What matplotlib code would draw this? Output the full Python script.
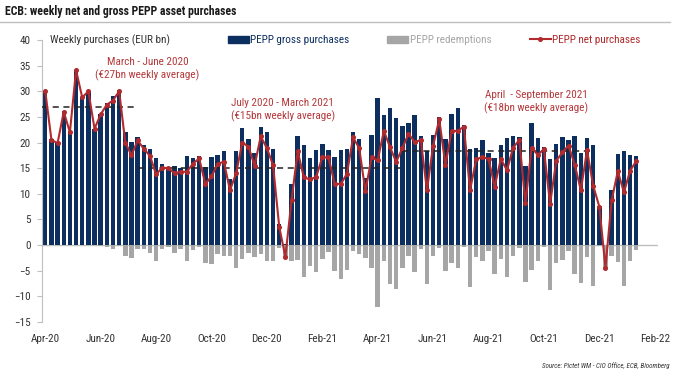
import numpy as np
import matplotlib
matplotlib.use('Agg')
import matplotlib.pyplot as plt
from matplotlib.patches import Patch
from matplotlib.lines import Line2D
from matplotlib import font_manager

# pick a narrow face if one is installed
names = {f.name for f in font_manager.fontManager.ttflist}
narrow = [n for n in ['Liberation Sans Narrow', 'DejaVu Sans Condensed', 'Roboto Condensed',
                      'Open Sans Condensed'] if n in names]
plt.rcParams['font.family'] = narrow + ['DejaVu Sans']
plt.rcParams['font.stretch'] = 'condensed'

# weekly PEPP data, EUR bn (week 1 = early April 2020)
gross = [30.1, 20.6, 19.9, 26.2, 22.2, 34.2, 28.8, 30.1, 22.7, 25.6,
         27.7, 29.0, 30.2, 22.1, 20.1, 21.1, 19.5, 18.8, 16.9, 15.8,
         15.3, 15.4, 15.1, 17.4, 16.9, 17.3, 15.3, 17.1, 17.6, 18.4,
         12.8, 18.4, 22.8, 20.7, 17.9, 23.0, 22.1, 18.8, 4.1, 0.2,
         11.9, 21.2, 19.5, 16.9, 18.6, 19.8, 18.5, 17.1, 18.5, 18.8,
         22.1, 20.6, 13.1, 21.5, 28.6, 25.4, 26.7, 24.7, 23.3, 23.9,
         25.3, 21.3, 18.3, 21.5, 25.0, 20.6, 25.6, 26.7, 23.4, 18.8,
         19.0, 20.4, 17.9, 17.0, 19.5, 20.9, 21.2, 21.0, 15.4, 23.9,
         20.8, 19.1, 16.8, 19.8, 21.0, 20.5, 21.3, 18.0, 20.8, 19.6,
         7.7, 0.0, 10.8, 17.7, 18.3, 17.6, 17.4]
redemptions = [0.0, 0.0, 0.0, 0.0, 0.0, 0.0, 0.0, 0.0, 0.0, -0.1,
               -0.3, -0.8, -0.2, -2.1, -2.6, -0.7, -0.7, -1.5, -3.1, -0.7,
               -0.3, -1.5, -0.8, -3.1, -1.0, -0.4, -3.4, -3.7, -1.8, -2.1,
               -2.1, -4.4, -2.8, -1.5, -2.4, -1.8, -3.2, -3.2, -0.5, -2.5,
               -3.2, -2.9, -6.3, -4.1, -5.3, -2.7, -1.4, -5.1, -6.6, -4.9,
               -1.1, -1.7, -2.6, -4.4, -12.1, -3.1, -7.6, -8.5, -4.4, -2.2,
               -5.2, -0.8, -7.6, -2.1, -0.5, -5.0, -3.4, -4.4, -0.3, -8.1,
               -2.3, -3.2, -1.1, -5.6, -2.7, -6.3, -2.2, -0.5, -7.2, -4.9,
               -3.2, -0.4, -8.8, -3.4, -2.9, -1.1, -5.6, -7.3, -2.3, -8.0,
               -0.2, -4.4, -2.1, -3.3, -8.0, -3.1, -1.0]
net = [30.0, 20.5, 19.9, 26.0, 22.0, 34.1, 28.8, 30.0, 22.7, 25.5,
       27.4, 28.2, 30.0, 20.0, 17.5, 20.4, 18.8, 17.4, 13.8, 15.1,
       15.0, 14.0, 14.3, 14.3, 15.9, 16.9, 11.9, 13.4, 15.8, 16.3,
       10.7, 14.0, 20.0, 19.2, 15.5, 21.2, 18.9, 15.6, 3.6, -2.3,
       8.7, 18.3, 13.2, 12.8, 13.3, 17.1, 17.1, 12.0, 11.9, 13.9,
       21.0, 18.9, 10.5, 17.1, 16.5, 22.3, 19.1, 16.2, 18.9, 21.7,
       20.1, 20.5, 10.7, 19.4, 24.5, 15.6, 22.2, 22.3, 23.1, 10.7,
       16.7, 17.2, 16.8, 11.4, 16.8, 14.6, 19.0, 20.5, 8.2, 19.0,
       17.6, 18.7, 8.0, 16.4, 18.1, 19.4, 15.7, 10.7, 18.5, 11.6,
       7.5, -4.4, 8.7, 14.4, 10.3, 14.5, 16.4]

tick_labels = ['Apr-20', 'Jun-20', 'Aug-20', 'Oct-20', 'Dec-20', 'Feb-21',
               'Apr-21', 'Jun-21', 'Aug-21', 'Oct-21', 'Dec-21', 'Feb-22']

# period averages: (value, first week, last week)
avg_values = [27, 15, 18.4]
avg_start = [-0.5, 15.1, 57.9]
avg_end = [14.8, 57.6, 88.9]
avg_texts = ['March - June 2020\n(\u20ac27bn weekly average)',
             'July 2020 - March 2021\n(\u20ac15bn weekly average)',
             'April  - September 2021\n(\u20ac18bn weekly average)']
avg_text_pos = [(16.6, 34.3), (38.6, 26.3), (79.8, 27.9)]

BLUE = '#0D2F5F'
GREY = '#A6A6A6'
RED = '#B02A2E'
TXT_RED = '#B5393B'
AX_GREY = '#BFBFBF'
FS = 8

weeks = np.arange(len(gross))

fig = plt.figure(figsize=(6.8, 3.76), dpi=100)
ax = fig.add_axes([42.2 / 680, 54 / 376, 615.6 / 680, 282 / 376])

ax.bar(weeks, gross, width=0.72, color=BLUE, zorder=2)
ax.bar(weeks, redemptions, width=0.72, color=GREY, zorder=2)
ax.axhline(0, color=AX_GREY, lw=1, zorder=1)
ax.plot(weeks, net, color=RED, lw=1.5, marker='o', markersize=2.6, zorder=4)

for v, s, e in zip(avg_values, avg_start, avg_end):
    ax.plot([s, e], [v, v], color='#222222', lw=1.1, ls=(0, (4, 3)), zorder=3)
for t, (px, py) in zip(avg_texts, avg_text_pos):
    ax.text(px, py, t, color=TXT_RED, fontsize=FS, ha='center', va='center',
            linespacing=1.25, zorder=5)

ax.set_xlim(-0.5, 99.5)
ax.set_ylim(-15, 40)
ax.set_yticks(np.arange(-15, 41, 5))
ax.set_xticks(np.arange(0, 100, 9))
ax.set_xticklabels(tick_labels)

for side in ['top', 'right', 'bottom']:
    ax.spines[side].set_visible(False)
ax.spines['left'].set_color(AX_GREY)
ax.tick_params(axis='y', direction='out', length=3.5, color=AX_GREY,
               labelsize=FS, labelcolor='#333333', pad=5)
ax.tick_params(axis='x', length=0, labelsize=FS, labelcolor='#333333', pad=9)

ax.text(0.8, 40, 'Weekly purchases (EUR bn)', fontsize=FS, color='#333333',
        ha='left', va='center')

handles = [Patch(color=BLUE), Patch(color=GREY),
           Line2D([], [], color=RED, lw=1.5, marker='o', markersize=2.6)]
leg = ax.legend(handles, ['PEPP gross purchases', 'PEPP redemptions',
                          'PEPP net purchases'],
                loc='center left', bbox_to_anchor=(222 / 680, 1 - 40 / 376),
                bbox_transform=fig.transFigure, ncol=3, frameon=False,
                fontsize=FS, handlelength=1.9, handleheight=0.6,
                handletextpad=0.15, columnspacing=3.4, borderpad=0)
for txt, c in zip(leg.get_texts(), [BLUE, GREY, RED]):
    txt.set_color(c)

fig.text(5 / 680, 1 - 12 / 376, 'ECB: weekly net and gross PEPP asset purchases',
         fontsize=8.5, fontweight='bold', color='#1a1a1a', ha='left', va='center')
fig.add_artist(Line2D([0, 670 / 680], [1 - 22 / 376, 1 - 22 / 376],
                      color=AX_GREY, lw=1, transform=fig.transFigure))
fig.text(670 / 680, 1 - 366 / 376, 'Source: Pictet WM - CIO Office, ECB, Bloomberg',
         fontsize=5, style='italic', color='#333333', ha='right', va='center')

fig.savefig('out.png', dpi=100)
